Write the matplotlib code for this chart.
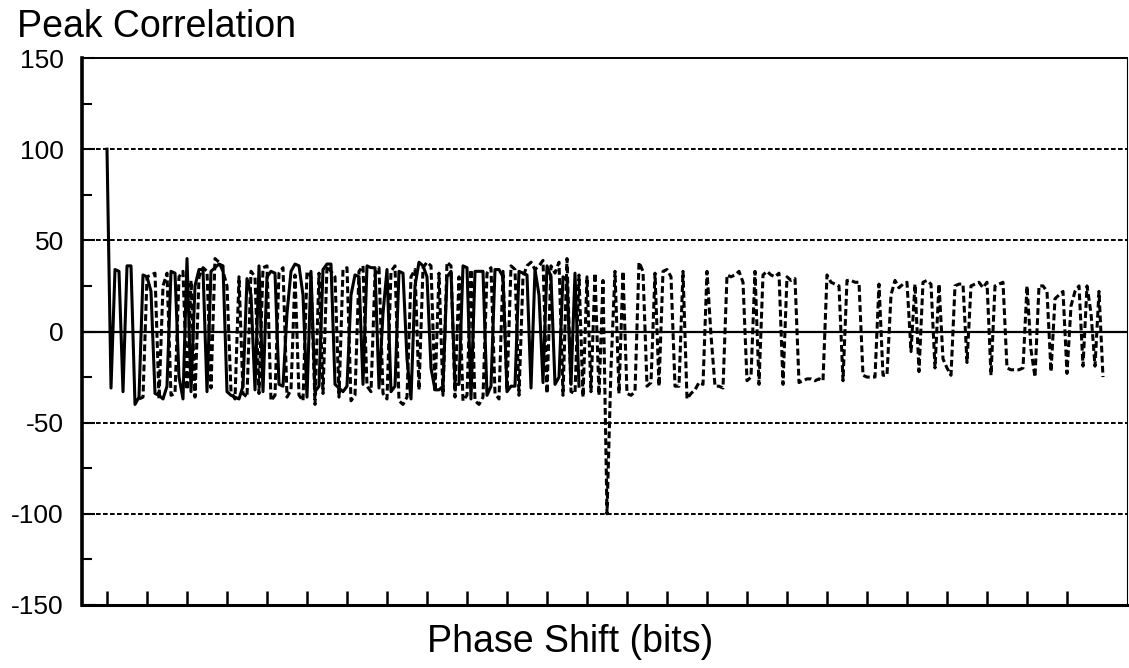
import matplotlib
matplotlib.use("Agg")
import matplotlib.pyplot as plt
from matplotlib.ticker import MultipleLocator

plt.rcParams['font.family'] = ['Liberation Sans', 'DejaVu Sans']
plt.rcParams['axes.unicode_minus'] = False

# peak correlation, solid trace (phase shift 0..118 bits)
solid_values = [
    100, -31, 34, 33, -33, 36, 36, -40, -36, 31,
    30, 22, -34, -35, -37, -30, 33, 32, -25, -37,
    40, -33, 25, 34, 34, -33, 33, 35, 37, 36,
    -33, -35, -36, -37, -30, 29, 20, -32, 36, -33,
    30, 33, 32, -29, -30, 10, 33, 37, 36, 20,
    -36, 33, -33, -30, 34, 37, 37, -29, -31, -33,
    -30, 20, 31, 30, -29, 36, 35, 35, -31, 10,
    34, -33, -30, 33, 32, -15, -37, 25, 38, 36,
    30, -20, -32, -32, -30, 30, 33, -29, -29, 36,
    35, -37, 33, 33, 33, -35, -30, 34, 34, 30,
    -33, -30, -30, 33, 32, 31, -31, 34, 20, -28,
    36, 30, -29, -25, 30, 28, -29, 32, -30,
]
solid_start = 0

# peak correlation, dashed trace (phase shift 8..249 bits)
dashed_values = [
    -37, -36, 30, 31, 32, -37, 25, 32, -35, -34,
    30, 33, -32, 28, -36, 30, 35, 33, -31, 40,
    38, 33, 25, -33, -37, 30, -34, -36, 33, 30,
    -34, 35, 36, -38, -35, 32, 35, -36, -32, 31,
    -35, -38, 33, 30, -40, 32, -34, 36, 33, 30,
    -36, 34, 35, -38, -35, 33, 36, -30, -33, 31,
    35, -34, -37, 33, 36, -38, -40, -36, 30, 34,
    -32, 35, 38, 36, -33, 32, -35, 38, 36, -36,
    30, -38, -35, 34, -38, -40, -36, 32, 35, -34,
    -37, 33, -32, 36, 34, -35, 30, 36, 38, 34,
    36, 39, -34, 36, 32, 38, -35, 40, -33, -34,
    31, -36, 30, -33, 32, -35, 28, -100, -20, 33,
    -34, 33, -34, -35, -33, 38, 33, -30, -28, 32,
    -30, 33, 34, 30, -30, -30, 33, -37, -34, -32,
    -28, -29, 33, -2, -30, -30, -31, 31, 30, 31,
    33, 27, -27, -25, 33, -29, 31, 33, 31, 30,
    32, -29, 30, 28, 29, -28, -27, -26, -26, -27,
    -26, -27, 31, 27, 26, 25, -27, 28, 28, 27,
    27, -24, -25, -25, -25, 26, -24, -24, 20, 28,
    24, 26, 27, -11, 26, -22, 27, 28, 26, -20,
    26, -15, -20, -24, 25, 26, 26, -17, 25, 26,
    27, 24, 27, -24, 25, 26, 27, -20, -21, -21,
    -21, -20, 25, -10, -25, 25, 25, 22, -22, 18,
    20, 22, -23, 14, 22, 25, -19, 25, 10, -19,
    22, -25,
]
dashed_start = 8

solid_x = list(range(solid_start, solid_start + len(solid_values)))
dashed_x = list(range(dashed_start, dashed_start + len(dashed_values)))

fig = plt.figure(figsize=(11.29, 6.68), dpi=100)
ax = fig.add_axes([82 / 1129, 1 - 605 / 668, 1045 / 1129, 547 / 668])

# reference lines
for level in [-100, -50, 50, 100]:
    ax.axhline(level, color='black', lw=1.4, ls=(0, (2.4, 1.2)), zorder=1)
ax.axhline(0, color='black', lw=1.6, zorder=2)

ax.plot(dashed_x, dashed_values, color='black', lw=2.2,
        ls=(0, (2.2, 1.1)), zorder=3)
ax.plot(solid_x, solid_values, color='black', lw=2.2, zorder=4)

ax.set_xlim(-6.25, 255)
ax.set_ylim(-150, 150)
ax.set_xticks(range(0, 250, 10))
ax.set_xticklabels([])
ax.yaxis.set_major_locator(MultipleLocator(50))
ax.yaxis.set_minor_locator(MultipleLocator(25))
ax.tick_params(axis='x', direction='in', length=10, width=1.8)
ax.tick_params(axis='y', which='major', direction='in', length=9, width=1.5,
               labelsize=19, pad=13)
ax.tick_params(axis='y', which='minor', direction='in', length=7, width=1.5)

ax.spines['left'].set_linewidth(2.6)
ax.spines['bottom'].set_linewidth(2.2)
ax.spines['top'].set_linewidth(1.4)
ax.spines['right'].set_linewidth(0.8)

fig.text(570 / 1129, 1 - 652 / 668, 'Phase Shift (bits)', fontsize=27,
         va='baseline', ha='center')
fig.text(17 / 1129, 1 - 37 / 668, 'Peak Correlation', fontsize=27,
         va='baseline', ha='left')

fig.savefig('out.png', dpi=100, facecolor='white')
plt.close(fig)
